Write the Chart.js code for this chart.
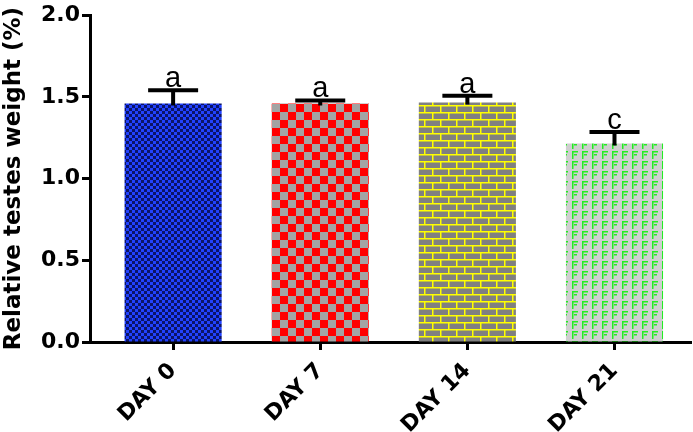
<!DOCTYPE html>
<html><head><meta charset="utf-8">
<script src="https://cdn.jsdelivr.net/npm/chart.js@4"></script>
<style>html,body{margin:0;padding:0;background:#fff}</style>
</head>
<body>
<canvas id="c" width="693" height="432"></canvas>
<script>
const categories = ['DAY 0', 'DAY 7', 'DAY 14', 'DAY 21'];
const means = [1.46, 1.46, 1.465, 1.215];
const errors = [0.08, 0.018, 0.042, 0.07];
const letters = ['a', 'a', 'a', 'c'];
const yTickValues = [0, 0.5, 1.0, 1.5, 2.0];

function tile(w, h, draw) {
  const c = document.createElement('canvas');
  c.width = w; c.height = h;
  const g = c.getContext('2d');
  draw(g);
  return document.getElementById('c').getContext('2d').createPattern(c, 'repeat');
}
const patBlue = tile(6, 6, g => {
  g.fillStyle = '#0b1468'; g.fillRect(0, 0, 6, 6);
  g.fillStyle = '#2242ff'; g.fillRect(0, 0, 3, 3); g.fillRect(3, 3, 3, 3);
});
const patRed = tile(16, 16, g => {
  g.fillStyle = '#a3a3a3'; g.fillRect(0, 0, 16, 16);
  g.fillStyle = '#ff0000'; g.fillRect(0, 0, 8, 8); g.fillRect(8, 8, 8, 8);
});
const patBrick = tile(16, 14, g => {
  g.fillStyle = '#808080'; g.fillRect(0, 0, 16, 14);
  g.fillStyle = '#ffff00';
  g.fillRect(0, 0, 16, 1.5); g.fillRect(0, 7, 16, 1.5);
  g.fillRect(0, 0, 1.5, 7); g.fillRect(8, 7, 1.5, 7);
});
const patGreen = tile(10, 10, g => {
  g.fillStyle = '#cfcfcf'; g.fillRect(0, 0, 10, 10);
  g.fillStyle = '#22ee22';
  g.fillRect(2, 1, 6, 1.5); g.fillRect(2, 1, 1.5, 8); g.fillRect(4, 4, 3, 1.5);
});
const fills = [patBlue, patRed, patBrick, patGreen];

const errPlugin = {
  id: 'errbars',
  afterDatasetsDraw(chart) {
    const ctx = chart.ctx, xs = chart.scales.x, ys = chart.scales.y;
    ctx.save();
    ctx.strokeStyle = '#000'; ctx.fillStyle = '#000';
    ctx.lineWidth = 4;
    means.forEach((m, i) => {
      const x = xs.getPixelForValue(i);
      const yTop = ys.getPixelForValue(m + errors[i]);
      const yM = ys.getPixelForValue(m);
      ctx.beginPath();
      ctx.moveTo(x, yM + 2); ctx.lineTo(x, yTop);
      ctx.moveTo(x - 25, yTop); ctx.lineTo(x + 25, yTop);
      ctx.stroke();
      ctx.font = '29px "Liberation Sans", Arial, sans-serif';
      ctx.textAlign = 'center'; ctx.textBaseline = 'alphabetic';
      ctx.fillText(letters[i], x, yTop - 3);
    });
    ctx.restore();
  }
};

const boldFont = '"DejaVu Sans", sans-serif';

new Chart(document.getElementById('c'), {
  type: 'bar',
  data: {
    datasets: [{
      data: means.map((v, i) => ({ x: i, y: v })),
      backgroundColor: fills,
      borderWidth: 0,
      barPercentage: 0.66,
      categoryPercentage: 1.0
    }]
  },
  options: {
    responsive: false,
    animation: false,
    events: [],
    layout: { padding: { top: 13, right: 2, left: 0, bottom: 0 } },
    plugins: { legend: { display: false }, tooltip: { enabled: false } },
    scales: {
      x: {
        type: 'linear',
        offset: false,
        min: -0.565, max: 3.52,
        afterBuildTicks: s => { s.ticks = categories.map((_, i) => ({ value: i })); },
        afterFit: s => { s.height = 90; },
        grid: { display: true, offset: false, drawOnChartArea: false, tickLength: 8, tickWidth: 3, tickColor: '#000' },
        border: { display: true, color: '#000', width: 3 },
        ticks: {
          autoSkip: false, maxRotation: 45, minRotation: 45,
          color: '#000', padding: 8,
          font: { family: boldFont, size: 22, weight: 'bold' },
          callback: v => categories[v] ?? ''
        }
      },
      y: {
        min: 0, max: 2,
        afterBuildTicks: s => { s.ticks = yTickValues.map(v => ({ value: v })); },
        afterFit: s => { s.width = 90; },
        grid: { display: true, drawOnChartArea: false, tickLength: 8, tickWidth: 3, tickColor: '#000' },
        border: { display: true, color: '#000', width: 3 },
        ticks: {
          color: '#000', padding: 2,
          font: { family: boldFont, size: 22, weight: 'bold' },
          callback: v => Number(v).toFixed(1)
        },
        title: {
          display: true, text: 'Relative testes weight (%)', color: '#000',
          padding: { top: 0, bottom: 0 },
          font: { family: boldFont, size: 23, weight: 'bold' }
        }
      }
    }
  },
  plugins: [errPlugin]
});
</script>
</body></html>
